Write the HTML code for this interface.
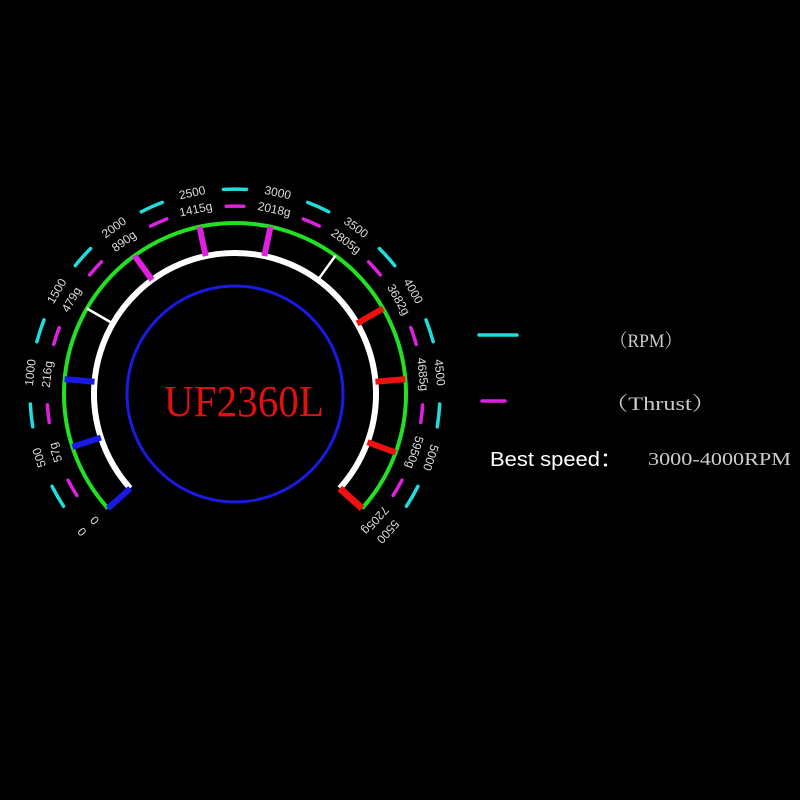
<!DOCTYPE html>
<html><head><meta charset="utf-8"><style>
html,body{margin:0;padding:0;background:#000;width:800px;height:800px;overflow:hidden}
svg{display:block}
.l{font-family:"Liberation Sans",sans-serif;font-size:12px;fill:#ddd;text-anchor:middle;dominant-baseline:middle}
</style></head><body>
<svg width="800" height="800" viewBox="0 0 800 800">
<rect width="800" height="800" fill="#000"/>
<circle cx="235" cy="394" r="108" fill="none" stroke="#1a1ae6" stroke-width="3"/>
<path d="M107.9,508.4 A171,171 0 1 1 362.1,508.4" fill="none" stroke="#22e022" stroke-width="4"/>
<path d="M130.2,488.3 A141,141 0 1 1 339.8,488.3" fill="none" stroke="#fff" stroke-width="6"/>
<g stroke-width="6">
<line x1="235" y1="253" x2="235" y2="223" stroke="#1a1ae6" transform="rotate(-132 235 394)"/>
<line x1="235" y1="253" x2="235" y2="223" stroke="#1a1ae6" transform="rotate(-108 235 394)"/>
<line x1="235" y1="253" x2="235" y2="223" stroke="#1a1ae6" transform="rotate(-85 235 394)"/>
<line x1="235" y1="253" x2="235" y2="223" stroke="#fff" stroke-width="2.5" transform="rotate(-60 235 394)"/>
<line x1="235" y1="253" x2="235" y2="223" stroke="#e020e0" transform="rotate(-36 235 394)"/>
<line x1="235" y1="253" x2="235" y2="223" stroke="#e020e0" transform="rotate(-12 235 394)"/>
<line x1="235" y1="253" x2="235" y2="223" stroke="#e020e0" transform="rotate(12 235 394)"/>
<line x1="235" y1="253" x2="235" y2="223" stroke="#fff" stroke-width="2.5" transform="rotate(36 235 394)"/>
<line x1="235" y1="253" x2="235" y2="223" stroke="#f01010" transform="rotate(60 235 394)"/>
<line x1="235" y1="253" x2="235" y2="223" stroke="#f01010" transform="rotate(85 235 394)"/>
<line x1="235" y1="253" x2="235" y2="223" stroke="#f01010" transform="rotate(110 235 394)"/>
<line x1="235" y1="253" x2="235" y2="223" stroke="#f01010" stroke-width="7" transform="rotate(132 235 394)"/>
</g>
<defs>
<path id="dc" d="M223.5,189.4 A205,205 0 0 1 246.5,189.4" fill="none" stroke="#20dcdc" stroke-width="3.5" stroke-linecap="round"/>
<path id="dm" d="M226.2,206.3 A188,188 0 0 1 243.8,206.3" fill="none" stroke="#e020e0" stroke-width="3.5" stroke-linecap="round"/>
</defs>
<use href="#dc" transform="rotate(-120 235 394)"/><use href="#dm" transform="rotate(-120 235 394)"/>
<use href="#dc" transform="rotate(-96 235 394)"/><use href="#dm" transform="rotate(-96 235 394)"/>
<use href="#dc" transform="rotate(-72 235 394)"/><use href="#dm" transform="rotate(-72 235 394)"/>
<use href="#dc" transform="rotate(-48 235 394)"/><use href="#dm" transform="rotate(-48 235 394)"/>
<use href="#dc" transform="rotate(-24 235 394)"/><use href="#dm" transform="rotate(-24 235 394)"/>
<use href="#dc" transform="rotate(0 235 394)"/><use href="#dm" transform="rotate(0 235 394)"/>
<use href="#dc" transform="rotate(24 235 394)"/><use href="#dm" transform="rotate(24 235 394)"/>
<use href="#dc" transform="rotate(48 235 394)"/><use href="#dm" transform="rotate(48 235 394)"/>
<use href="#dc" transform="rotate(72 235 394)"/><use href="#dm" transform="rotate(72 235 394)"/>
<use href="#dc" transform="rotate(96 235 394)"/><use href="#dm" transform="rotate(96 235 394)"/>
<use href="#dc" transform="rotate(120 235 394)"/><use href="#dm" transform="rotate(120 235 394)"/>
<g class="l">
<text x="235" y="189" transform="rotate(-132 235 394)">0</text><text x="235" y="206" transform="rotate(-132 235 394)">0</text>
<text x="235" y="189" transform="rotate(-108 235 394)">500</text><text x="235" y="206" transform="rotate(-108 235 394)">57g</text>
<text x="235" y="189" transform="rotate(-84 235 394)">1000</text><text x="235" y="206" transform="rotate(-84 235 394)">216g</text>
<text x="235" y="189" transform="rotate(-60 235 394)">1500</text><text x="235" y="206" transform="rotate(-60 235 394)">479g</text>
<text x="235" y="189" transform="rotate(-36 235 394)">2000</text><text x="235" y="206" transform="rotate(-36 235 394)">890g</text>
<text x="235" y="189" transform="rotate(-12 235 394)">2500</text><text x="235" y="206" transform="rotate(-12 235 394)">1415g</text>
<text x="235" y="189" transform="rotate(12 235 394)">3000</text><text x="235" y="206" transform="rotate(12 235 394)">2018g</text>
<text x="235" y="189" transform="rotate(36 235 394)">3500</text><text x="235" y="206" transform="rotate(36 235 394)">2805g</text>
<text x="235" y="189" transform="rotate(60 235 394)">4000</text><text x="235" y="206" transform="rotate(60 235 394)">3682g</text>
<text x="235" y="189" transform="rotate(84 235 394)">4500</text><text x="235" y="206" transform="rotate(84 235 394)">4685g</text>
<text x="235" y="189" transform="rotate(108 235 394)">5000</text><text x="235" y="206" transform="rotate(108 235 394)">5950g</text>
<text x="235" y="189" transform="rotate(132 235 394)">5500</text><text x="235" y="206" transform="rotate(132 235 394)">7205g</text>
</g>
<text x="244" y="416" font-family="Liberation Serif,serif" font-size="44" fill="#e01010" text-anchor="middle" textLength="160" lengthAdjust="spacingAndGlyphs">UF2360L</text>
<line x1="479" y1="335" x2="517" y2="335" stroke="#20dcdc" stroke-width="3.5" stroke-linecap="round"/>
<line x1="482" y1="401" x2="505" y2="401" stroke="#e020e0" stroke-width="3.5" stroke-linecap="round"/>
<text x="610" y="347" font-family="Liberation Serif,'Noto Serif CJK SC',serif" font-size="19" fill="#ccc" textLength="72" lengthAdjust="spacingAndGlyphs">（RPM）</text>
<text x="604" y="410" font-family="Liberation Serif,'Noto Serif CJK SC',serif" font-size="19" fill="#ccc" textLength="112" lengthAdjust="spacingAndGlyphs">（Thrust）</text>
<text x="490" y="466" font-family="Liberation Sans,'Noto Sans CJK SC',sans-serif" font-size="20" fill="#fff" textLength="132" lengthAdjust="spacingAndGlyphs">Best speed：</text>
<text x="648" y="465" font-family="Liberation Serif,serif" font-size="18" fill="#ccc" textLength="143" lengthAdjust="spacingAndGlyphs">3000-4000RPM</text>
</svg>
</body></html>
